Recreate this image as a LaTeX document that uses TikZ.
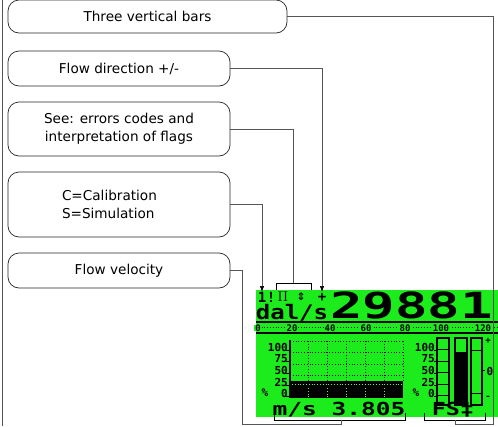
\documentclass[tikz,border=0pt]{standalone}
\usepackage{fontspec}
\setmainfont{DejaVu Sans}
\newfontfamily\lcdfont{DejaVu Sans Mono}
\usetikzlibrary{arrows.meta,positioning}
\definecolor{lcdgreen}{RGB}{28,236,28}
\definecolor{wiregray}{RGB}{85,85,85}
\newcommand{\lcdsize}[1]{\lcdfont\bfseries\fontsize{#1}{#1}\selectfont}

\begin{document}
\begin{tikzpicture}[
    x=1pt, y=-1pt,
    >={Latex[length=6pt,width=4.5pt,color=black]},
    every node/.style={font=\fontsize{13.6}{18}\selectfont},
    callout/.style={draw=black!85, line width=0.7pt, rounded corners=11pt, minimum width=222pt, minimum height=35pt, inner sep=0pt, align=center},
    wire/.style={draw=wiregray, line width=0.7pt},
    brk/.style={draw=black, line width=0.8pt},
    lcdtxt/.style={inner sep=0pt, text=black, text depth=0pt},
    grid/.style={draw=black, line width=0.8pt, dotted},
    seg/.style={draw=black, line width=1.3pt}
]
    \useasboundingbox (0,0) rectangle (498,426);
    \draw[wire] (2,0) -- (2,426);

    \node[callout, minimum width=279pt, minimum height=33pt] (bars) at (147.5,16.5) {Three vertical bars};
    \node[callout] (dir) at (119,68.5) {Flow direction +/-};
    \node[callout, minimum height=54pt] (flags) at (119,129) {See: errors codes and\\interpretation of flags};
    \node[callout, minimum height=65pt, text width=114pt, align=left] (cal) at (119,204.5) {C=Calibration\\S=Simulation};
    \node[callout] (vel) at (119,270.5) {Flow velocity};

    % display
    \fill[lcdgreen] (256,290) rectangle (498,417);
    \foreach \s/\x/\n in {1/262/flagone, !/271/flagbang, $\Pi$/283/flagsim, ⇕/301/flagdir, +/322/flagsign}
        \node[lcdtxt, font=\lcdsize{14}] (\n) at (\x,297) {\s};
    \node[lcdtxt, font=\lcdsize{20}, anchor=base] (unit) at (292,319) {\scalebox{1.2}[1]{dal/s}};
    \node[lcdtxt, font=\lcdsize{36}, anchor=base] (total) at (411.5,318) {\scalebox{1.5}[1]{29881}};

    \draw[seg] (256,322) -- (498,322);
    \draw[seg] (256,333) -- (498,333);
    \draw[grid] (256,327.5) -- (498,327.5);
    \foreach \v/\x/\n in {0/258/sc0, 20/292/sc1, 40/330/sc2, 60/366/sc3, 80/405/sc4, 100/441/sc5, 120/483/sc6}
        \node[lcdtxt, font=\lcdsize{9}, fill=lcdgreen, inner xsep=1pt] (\n) at (\x,328) {\v};

    \foreach \v/\y/\n in {100/347/la, 75/358/lb, 50/370/lc, 25/382/ld, 0/393/le} {
        \node[lcdtxt, font=\lcdsize{11}, anchor=east] (\n) at (288,\y) {\v};
        \node[lcdtxt, font=\lcdsize{11}, anchor=east] (r\n) at (435,\y) {\v};
        \draw[seg, line width=0.8pt] (286,\y+3) -- (290,\y+3);
        \draw[seg, line width=0.8pt] (434,\y+3) -- (437,\y+3);
    }
    \node[lcdtxt, font=\lcdsize{11}] (pctl) at (265,393) {\%};
    \node[lcdtxt, font=\lcdsize{11}] (pctr) at (416,393) {\%};

    \foreach \y in {341,352,364,375}
        \draw[grid] (290,\y) -- (403,\y);
    \foreach \x in {308,327,346,365,384,403}
        \draw[grid] (\x,341) -- (\x,382);
    \fill[black] (290,381) rectangle (403,398);
    \draw[draw=lcdgreen!70!white, line width=0.8pt, dotted] (292,384.5) -- (402,384.5);
    \foreach \x in {308,327,346,365,384}
        \draw[draw=lcdgreen!70!white, line width=0.8pt, dotted] (\x,388) -- (\x,397);
    \draw[seg] (290,340) -- (290,398);

    \draw[seg] (437,338) rectangle (449,405);
    \foreach \y in {349,361,372,384,395}
        \draw[seg, line width=1pt] (437,\y) -- (449,\y);
    \draw[seg] (455,338) rectangle (467,405);
    \fill[black] (456,352) rectangle (466,405);
    \draw[seg] (471,338) rectangle (482,405);
    \draw[seg, line width=1pt] (471,350) -- (482,350);
    \draw[seg, line width=1pt] (471,393) -- (482,393);
    \draw[seg, line width=1pt] (482,370) -- (485,370);
    \node[lcdtxt, font=\lcdsize{9}] (plus) at (488,341) {+};
    \node[lcdtxt, font=\lcdsize{11}] (zero) at (490,371) {0};
    \node[lcdtxt, font=\lcdsize{9}] (minus) at (488,398) {-};

    \node[lcdtxt, font=\lcdsize{18}, anchor=base] (speed) at (339,415) {\scalebox{1.36}[1]{m/s 3.805}};
    \node[lcdtxt, font=\lcdsize{18}, anchor=base] (mode) at (453,415) {\scalebox{1.3}[1]{FS‡}};

    % brackets and targets
    \coordinate (flagbrk) at (293,283);
    \coordinate (dirtip) at (322,292);
    \coordinate (caltip) at (262,292);
    \coordinate (velbrk) at (341,420);
    \coordinate (barbrk) at (455,420);
    \coordinate (velrail) at (242,424.5);
    \coordinate (barrail) at (493,424.5);
    \draw[brk] (276,290) -- (276,283) -- (311,283) -- (311,290);
    \draw[brk] (274,413) -- (274,420) -- (405,420) -- (405,413);
    \draw[brk] (424,413) -- (424,420) -- (485,420) -- (485,413);

    \draw[wire] (bars.east) -| (barrail) -| (barbrk);
    \draw[wire, ->] (dir.east) -| (dirtip);
    \draw[wire] (flags.east) -| (flagbrk);
    \draw[wire, ->] (cal.east) -| (caltip);
    \draw[wire] (vel.east) -| (velrail) -| (velbrk);
\end{tikzpicture}
\end{document}
